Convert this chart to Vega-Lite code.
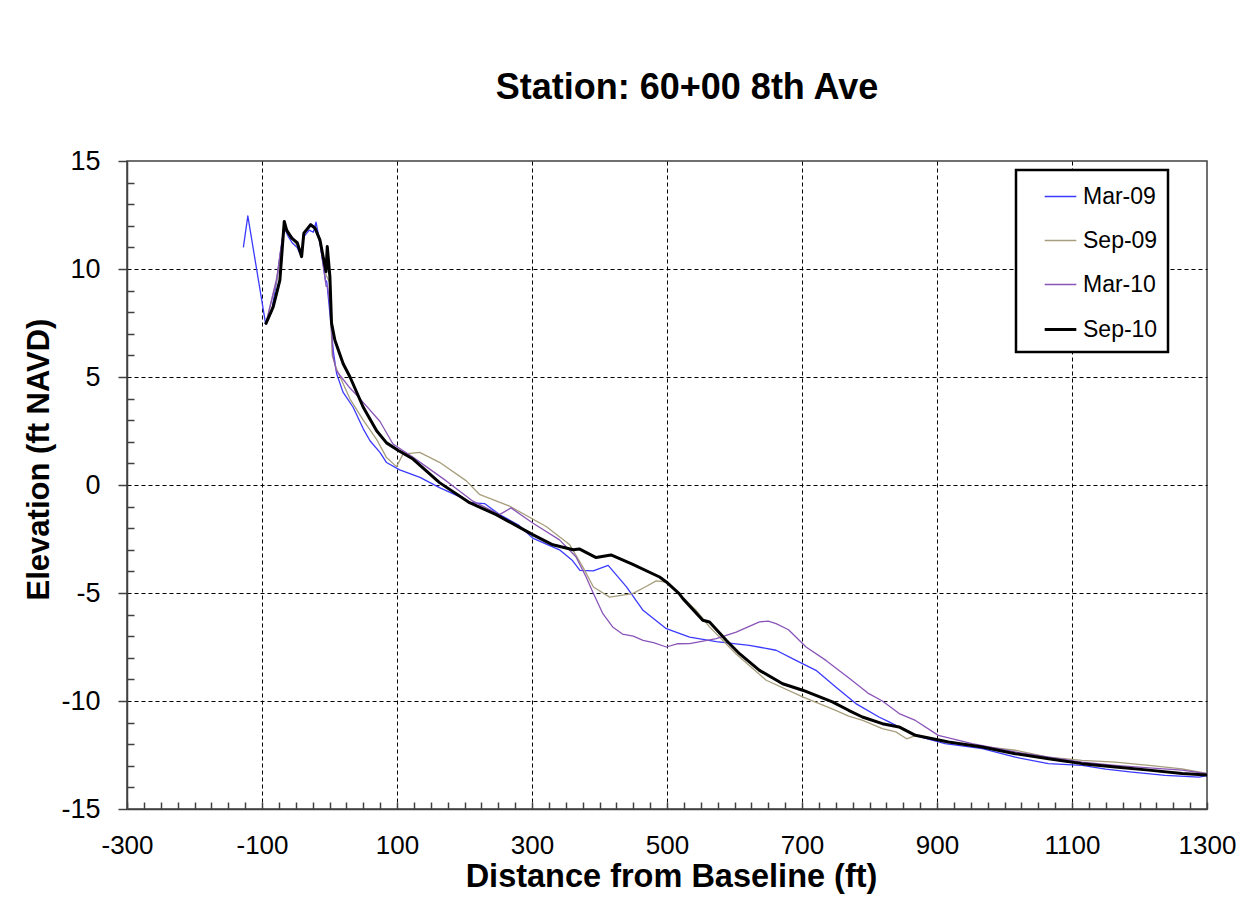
{
 "$schema": "https://vega.github.io/schema/vega-lite/v6.json",
 "width": 1080, "height": 648,
 "autosize": {"type": "none"},
 "padding": {"left": 127, "top": 161, "right": 47, "bottom": 105},
 "background": "white",
 "title": {"text": "Station: 60+00 8th Ave", "font": "Liberation Sans", "fontSize": 36, "fontWeight": "bold", "color": "black", "offset": 40, "dx": 20, "anchor": "middle"},
 "config": {"view": {"stroke": "#404040", "strokeWidth": 1.5}, "font": "Liberation Sans"},
 "data": {"values": [
  {"s":"Mar-09","d":-127.6,"e":11.0},{"s":"Mar-09","d":-121,"e":12.46},{"s":"Mar-09","d":-94.5,"e":7.44},{"s":"Mar-09","d":-86,"e":8.0},{"s":"Mar-09","d":-78,"e":9.5},{"s":"Mar-09","d":-73,"e":10.7},{"s":"Mar-09","d":-67,"e":11.9},{"s":"Mar-09","d":-61,"e":11.5},{"s":"Mar-09","d":-55,"e":11.2},{"s":"Mar-09","d":-48,"e":11.0},{"s":"Mar-09","d":-42,"e":10.6},{"s":"Mar-09","d":-38,"e":11.5},{"s":"Mar-09","d":-30,"e":11.8},{"s":"Mar-09","d":-24,"e":11.7},{"s":"Mar-09","d":-20,"e":12.17},{"s":"Mar-09","d":-14,"e":11.2},{"s":"Mar-09","d":-6,"e":9.5},{"s":"Mar-09","d":-4,"e":9.4},{"s":"Mar-09","d":2,"e":7.5},{"s":"Mar-09","d":5.6,"e":6.2},{"s":"Mar-09","d":10.6,"e":5.15},{"s":"Mar-09","d":20,"e":4.3},{"s":"Mar-09","d":35,"e":3.6},{"s":"Mar-09","d":50,"e":2.6},{"s":"Mar-09","d":60,"e":2.05},{"s":"Mar-09","d":75,"e":1.5},{"s":"Mar-09","d":84.5,"e":1.04},{"s":"Mar-09","d":104,"e":0.7},{"s":"Mar-09","d":134,"e":0.35},{"s":"Mar-09","d":163,"e":-0.12},{"s":"Mar-09","d":190,"e":-0.5},{"s":"Mar-09","d":207.5,"e":-0.82},{"s":"Mar-09","d":229.7,"e":-0.86},{"s":"Mar-09","d":252,"e":-1.37},{"s":"Mar-09","d":280,"e":-1.85},{"s":"Mar-09","d":301,"e":-2.46},{"s":"Mar-09","d":340.7,"e":-3.0},{"s":"Mar-09","d":360,"e":-3.5},{"s":"Mar-09","d":371,"e":-3.95},{"s":"Mar-09","d":390.7,"e":-3.98},{"s":"Mar-09","d":412.8,"e":-3.72},{"s":"Mar-09","d":440,"e":-4.72},{"s":"Mar-09","d":464.5,"e":-5.8},{"s":"Mar-09","d":499,"e":-6.65},{"s":"Mar-09","d":533.5,"e":-7.04},{"s":"Mar-09","d":573,"e":-7.25},{"s":"Mar-09","d":622,"e":-7.42},{"s":"Mar-09","d":661.6,"e":-7.65},{"s":"Mar-09","d":691,"e":-8.12},{"s":"Mar-09","d":720.7,"e":-8.58},{"s":"Mar-09","d":750,"e":-9.35},{"s":"Mar-09","d":779.8,"e":-10.12},{"s":"Mar-09","d":814,"e":-10.74},{"s":"Mar-09","d":829,"e":-10.97},{"s":"Mar-09","d":850,"e":-11.3},{"s":"Mar-09","d":868,"e":-11.6},{"s":"Mar-09","d":912,"e":-11.97},{"s":"Mar-09","d":967,"e":-12.2},{"s":"Mar-09","d":1016,"e":-12.6},{"s":"Mar-09","d":1065,"e":-12.9},{"s":"Mar-09","d":1115,"e":-12.98},{"s":"Mar-09","d":1150,"e":-13.15},{"s":"Mar-09","d":1189,"e":-13.29},{"s":"Mar-09","d":1238,"e":-13.44},{"s":"Mar-09","d":1288,"e":-13.52},{"s":"Mar-09","d":1300,"e":-13.45},
  {"s":"Sep-09","d":-94,"e":7.5},{"s":"Sep-09","d":-78,"e":9.5},{"s":"Sep-09","d":-67,"e":12.0},{"s":"Sep-09","d":-61,"e":11.6},{"s":"Sep-09","d":-48,"e":11.1},{"s":"Sep-09","d":-41,"e":10.6},{"s":"Sep-09","d":-38,"e":11.6},{"s":"Sep-09","d":-28,"e":12.0},{"s":"Sep-09","d":-21,"e":11.9},{"s":"Sep-09","d":-14,"e":11.3},{"s":"Sep-09","d":-5,"e":9.7},{"s":"Sep-09","d":-3,"e":9.6},{"s":"Sep-09","d":0,"e":9.4},{"s":"Sep-09","d":4,"e":6.0},{"s":"Sep-09","d":10,"e":5.4},{"s":"Sep-09","d":30,"e":4.0},{"s":"Sep-09","d":50,"e":3.0},{"s":"Sep-09","d":70,"e":2.1},{"s":"Sep-09","d":84.5,"e":1.27},{"s":"Sep-09","d":99.3,"e":0.85},{"s":"Sep-09","d":108.9,"e":1.43},{"s":"Sep-09","d":133.6,"e":1.51},{"s":"Sep-09","d":163,"e":1.05},{"s":"Sep-09","d":202.7,"e":0.19},{"s":"Sep-09","d":222,"e":-0.43},{"s":"Sep-09","d":266.7,"e":-0.98},{"s":"Sep-09","d":321,"e":-1.92},{"s":"Sep-09","d":356,"e":-2.77},{"s":"Sep-09","d":375,"e":-3.78},{"s":"Sep-09","d":391,"e":-4.72},{"s":"Sep-09","d":415,"e":-5.19},{"s":"Sep-09","d":449,"e":-5.03},{"s":"Sep-09","d":469,"e":-4.7},{"s":"Sep-09","d":484,"e":-4.44},{"s":"Sep-09","d":499,"e":-4.49},{"s":"Sep-09","d":520,"e":-5.1},{"s":"Sep-09","d":543,"e":-5.8},{"s":"Sep-09","d":563,"e":-6.57},{"s":"Sep-09","d":602,"e":-7.81},{"s":"Sep-09","d":647,"e":-9.04},{"s":"Sep-09","d":701,"e":-9.81},{"s":"Sep-09","d":750,"e":-10.43},{"s":"Sep-09","d":769,"e":-10.7},{"s":"Sep-09","d":790,"e":-10.9},{"s":"Sep-09","d":819,"e":-11.28},{"s":"Sep-09","d":839,"e":-11.43},{"s":"Sep-09","d":855,"e":-11.75},{"s":"Sep-09","d":868,"e":-11.6},{"s":"Sep-09","d":917,"e":-11.9},{"s":"Sep-09","d":967,"e":-12.1},{"s":"Sep-09","d":1016,"e":-12.28},{"s":"Sep-09","d":1065,"e":-12.6},{"s":"Sep-09","d":1115,"e":-12.75},{"s":"Sep-09","d":1164,"e":-12.83},{"s":"Sep-09","d":1214,"e":-12.98},{"s":"Sep-09","d":1263,"e":-13.14},{"s":"Sep-09","d":1300,"e":-13.35},
  {"s":"Mar-10","d":-94,"e":7.5},{"s":"Mar-10","d":-78,"e":9.6},{"s":"Mar-10","d":-67,"e":12.1},{"s":"Mar-10","d":-61,"e":11.7},{"s":"Mar-10","d":-48,"e":11.2},{"s":"Mar-10","d":-41,"e":10.7},{"s":"Mar-10","d":-38,"e":11.6},{"s":"Mar-10","d":-28,"e":12.1},{"s":"Mar-10","d":-21,"e":11.9},{"s":"Mar-10","d":-14,"e":11.2},{"s":"Mar-10","d":-5,"e":9.2},{"s":"Mar-10","d":-3,"e":9.2},{"s":"Mar-10","d":2,"e":8.0},{"s":"Mar-10","d":5,"e":6.0},{"s":"Mar-10","d":10,"e":5.3},{"s":"Mar-10","d":30,"e":4.5},{"s":"Mar-10","d":45,"e":4.0},{"s":"Mar-10","d":74.6,"e":2.95},{"s":"Mar-10","d":94,"e":1.9},{"s":"Mar-10","d":124,"e":1.28},{"s":"Mar-10","d":150,"e":0.7},{"s":"Mar-10","d":173,"e":0.19},{"s":"Mar-10","d":212.5,"e":-0.75},{"s":"Mar-10","d":252,"e":-1.37},{"s":"Mar-10","d":269,"e":-1.06},{"s":"Mar-10","d":301,"e":-1.76},{"s":"Mar-10","d":340.7,"e":-2.54},{"s":"Mar-10","d":365,"e":-3.32},{"s":"Mar-10","d":380,"e":-4.25},{"s":"Mar-10","d":390,"e":-4.95},{"s":"Mar-10","d":405,"e":-5.96},{"s":"Mar-10","d":420,"e":-6.59},{"s":"Mar-10","d":434,"e":-6.9},{"s":"Mar-10","d":450,"e":-7.0},{"s":"Mar-10","d":464.5,"e":-7.19},{"s":"Mar-10","d":480,"e":-7.3},{"s":"Mar-10","d":499,"e":-7.5},{"s":"Mar-10","d":515,"e":-7.35},{"s":"Mar-10","d":533.5,"e":-7.34},{"s":"Mar-10","d":573,"e":-7.11},{"s":"Mar-10","d":602.5,"e":-6.81},{"s":"Mar-10","d":637,"e":-6.34},{"s":"Mar-10","d":650,"e":-6.3},{"s":"Mar-10","d":661.6,"e":-6.42},{"s":"Mar-10","d":680,"e":-6.7},{"s":"Mar-10","d":691,"e":-7.04},{"s":"Mar-10","d":706,"e":-7.5},{"s":"Mar-10","d":735.5,"e":-8.12},{"s":"Mar-10","d":770,"e":-8.95},{"s":"Mar-10","d":799,"e":-9.66},{"s":"Mar-10","d":819,"e":-10.0},{"s":"Mar-10","d":844,"e":-10.58},{"s":"Mar-10","d":868,"e":-10.9},{"s":"Mar-10","d":902,"e":-11.59},{"s":"Mar-10","d":952,"e":-11.97},{"s":"Mar-10","d":1016,"e":-12.36},{"s":"Mar-10","d":1065,"e":-12.6},{"s":"Mar-10","d":1115,"e":-12.83},{"s":"Mar-10","d":1164,"e":-12.98},{"s":"Mar-10","d":1214,"e":-13.1},{"s":"Mar-10","d":1263,"e":-13.2},{"s":"Mar-10","d":1300,"e":-13.36},
  {"s":"Sep-10","d":-94.7,"e":7.44},{"s":"Sep-10","d":-83.4,"e":8.25},{"s":"Sep-10","d":-73.5,"e":9.49},{"s":"Sep-10","d":-67,"e":12.2},{"s":"Sep-10","d":-63.5,"e":11.8},{"s":"Sep-10","d":-56,"e":11.43},{"s":"Sep-10","d":-47.8,"e":11.22},{"s":"Sep-10","d":-41.3,"e":10.57},{"s":"Sep-10","d":-38,"e":11.66},{"s":"Sep-10","d":-28,"e":12.05},{"s":"Sep-10","d":-21.6,"e":11.9},{"s":"Sep-10","d":-14.2,"e":11.35},{"s":"Sep-10","d":-5.2,"e":9.88},{"s":"Sep-10","d":-3.3,"e":11.04},{"s":"Sep-10","d":0.6,"e":9.64},{"s":"Sep-10","d":3,"e":7.5},{"s":"Sep-10","d":8,"e":6.7},{"s":"Sep-10","d":20.4,"e":5.6},{"s":"Sep-10","d":30.4,"e":5.0},{"s":"Sep-10","d":50,"e":3.6},{"s":"Sep-10","d":69.8,"e":2.51},{"s":"Sep-10","d":84.5,"e":1.95},{"s":"Sep-10","d":102,"e":1.6},{"s":"Sep-10","d":123.7,"e":1.2},{"s":"Sep-10","d":163,"e":0.11},{"s":"Sep-10","d":207.5,"e":-0.82},{"s":"Sep-10","d":247,"e":-1.37},{"s":"Sep-10","d":301,"e":-2.3},{"s":"Sep-10","d":330.8,"e":-2.77},{"s":"Sep-10","d":361,"e":-3.0},{"s":"Sep-10","d":370,"e":-2.96},{"s":"Sep-10","d":395,"e":-3.36},{"s":"Sep-10","d":417,"e":-3.24},{"s":"Sep-10","d":448.5,"e":-3.66},{"s":"Sep-10","d":489,"e":-4.26},{"s":"Sep-10","d":499,"e":-4.49},{"s":"Sep-10","d":518,"e":-5.03},{"s":"Sep-10","d":523.6,"e":-5.26},{"s":"Sep-10","d":553,"e":-6.26},{"s":"Sep-10","d":563,"e":-6.34},{"s":"Sep-10","d":587.7,"e":-7.19},{"s":"Sep-10","d":607.4,"e":-7.81},{"s":"Sep-10","d":637,"e":-8.58},{"s":"Sep-10","d":671.3,"e":-9.2},{"s":"Sep-10","d":701,"e":-9.5},{"s":"Sep-10","d":745,"e":-10.04},{"s":"Sep-10","d":769,"e":-10.43},{"s":"Sep-10","d":789.5,"e":-10.74},{"s":"Sep-10","d":819,"e":-11.05},{"s":"Sep-10","d":843.7,"e":-11.2},{"s":"Sep-10","d":868,"e":-11.59},{"s":"Sep-10","d":917,"e":-11.9},{"s":"Sep-10","d":967,"e":-12.13},{"s":"Sep-10","d":1016,"e":-12.44},{"s":"Sep-10","d":1065.5,"e":-12.67},{"s":"Sep-10","d":1115,"e":-12.9},{"s":"Sep-10","d":1164,"e":-13.06},{"s":"Sep-10","d":1214,"e":-13.2},{"s":"Sep-10","d":1263,"e":-13.36},{"s":"Sep-10","d":1300,"e":-13.43}
 ]},
 "mark": {"type": "line", "strokeJoin": "round", "clip": true},
 "encoding": {
  "x": {"field": "d", "type": "quantitative",
   "scale": {"domain": [-300, 1300], "nice": false, "zero": false},
   "axis": {"values": [-300,-275,-250,-225,-200,-175,-150,-125,-100,-75,-50,-25,0,25,50,75,100,125,150,175,200,225,250,275,300,325,350,375,400,425,450,475,500,525,550,575,600,625,650,675,700,725,750,775,800,825,850,875,900,925,950,975,1000,1025,1050,1075,1100,1125,1150,1175,1200,1225,1250,1275,1300],
    "labelExpr": "((datum.value + 300) % 200 == 0) ? ('' + datum.value) : ''",
    "labelFontSize": 26, "labelColor": "black", "labelPadding": 30, "labelFlush": false, "labelOverlap": false, "labelFont": "Liberation Sans",
    "tickSize": -7, "tickColor": "#404040", "tickWidth": 1.5,
    "domainColor": "#404040", "domainWidth": 1.5,
    "grid": true, "gridColor": "black", "gridDash": [4, 3], "gridWidth": 1,
    "gridOpacity": {"condition": {"test": "(datum.value + 300) % 200 == 0 && datum.value > -300 && datum.value < 1300", "value": 1}, "value": 0},
    "title": "Distance from Baseline (ft)", "titleFontSize": 32.5, "titleFontWeight": "bold", "titleColor": "black", "titlePadding": 2, "titleFont": "Liberation Sans", "titleX": 544
   }},
  "y": {"field": "e", "type": "quantitative",
   "scale": {"domain": [-15, 15], "nice": false, "zero": false},
   "axis": {"values": [-15,-14,-13,-12,-11,-10,-9,-8,-7,-6,-5,-4,-3,-2,-1,0,1,2,3,4,5,6,7,8,9,10,11,12,13,14,15],
    "labelExpr": "(datum.value % 5 == 0) ? ('' + datum.value) : ''",
    "labelFontSize": 27, "labelColor": "black", "labelPadding": 18, "labelFont": "Liberation Sans",
    "tickSize": {"condition": {"test": "datum.value % 5 == 0", "value": 9}, "value": -7},
    "tickColor": "#404040", "tickWidth": 1.5,
    "domainColor": "#404040", "domainWidth": 1.5,
    "grid": true, "gridColor": "black", "gridDash": [4, 3], "gridWidth": 1,
    "gridOpacity": {"condition": {"test": "datum.value % 5 == 0 && datum.value > -15 && datum.value < 15", "value": 1}, "value": 0},
    "title": "Elevation (ft NAVD)", "titleFontSize": 31, "titleFontWeight": "bold", "titleColor": "black", "titlePadding": 5, "titleFont": "Liberation Sans", "titleY": 298
   }},
  "color": {"field": "s", "type": "nominal",
   "scale": {"domain": ["Mar-09", "Sep-09", "Mar-10", "Sep-10"], "range": ["#3a3aff", "#a69e7c", "#8a55b8", "#000000"]},
   "legend": {"orient": "none", "legendX": 889, "legendY": 9, "title": null,
    "strokeColor": "black", "fillColor": "white", "padding": 10,
    "labelFontSize": 23, "labelColor": "black", "labelFont": "Liberation Sans", "labelOffset": 5,
    "labelExpr": "datum.label + '\u00a0\u00a0\u00a0\u00a0'",
    "symbolType": "stroke", "symbolSize": 1000, "symbolStrokeWidth": 1.5, "symbolOffset": 17,
    "rowPadding": 15,
    "encode": {"legend": {"update": {"strokeWidth": {"value": 2.5}}}, "symbols": {"update": {"strokeWidth": {"signal": "datum.value == 'Sep-10' ? 3 : 1.5"}}}}
   }},
  "strokeWidth": {"field": "s", "type": "ordinal",
   "scale": {"type": "ordinal", "domain": ["Mar-09", "Sep-09", "Mar-10", "Sep-10"], "range": [1.3, 1.3, 1.3, 3]},
   "legend": null}
 }
}
